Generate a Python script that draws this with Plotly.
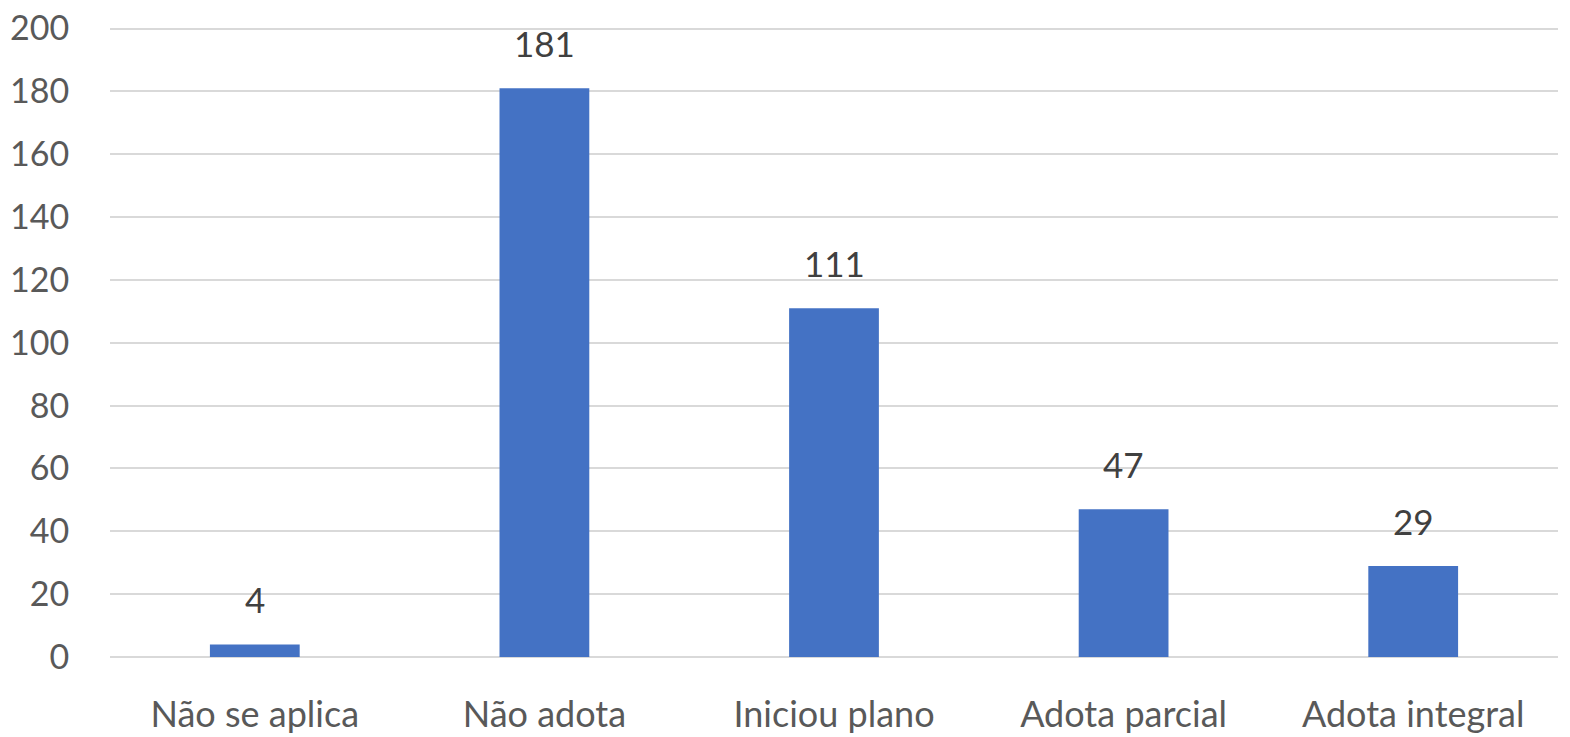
import plotly.graph_objects as go

categories = ["Não se aplica", "Não adota", "Iniciou plano", "Adota parcial", "Adota integral"]
values = [4, 181, 111, 47, 29]
y_ticks = [0, 20, 40, 60, 80, 100, 120, 140, 160, 180, 200]

FONT = "Lato"
GRAY = "#595959"

fig = go.Figure()
fig.add_trace(go.Bar(
    x=categories, y=values,
    marker=dict(color="#4472C4", line=dict(width=0)),
    width=0.31,
))

for c, v in zip(categories, values):
    fig.add_annotation(
        x=c, y=v, text=str(v), showarrow=False,
        yanchor="bottom", yshift=22,
        font=dict(family=FONT, size=35, color="#404040"),
    )

fig.update_layout(
    width=1570, height=737,
    margin=dict(l=110, r=12, t=27, b=80),
    paper_bgcolor="white", plot_bgcolor="white",
    showlegend=False,
    font=dict(family=FONT, size=30, color=GRAY),
)
fig.update_xaxes(
    showgrid=False, showline=False, zeroline=False, automargin=False,
    ticks="outside", ticklen=26, tickcolor="rgba(0,0,0,0)",
    tickfont=dict(family=FONT, size=36, color=GRAY),
)
fig.update_yaxes(
    range=[0, 200.5], tickvals=y_ticks, automargin=False,
    showgrid=True, gridcolor="#d9d9d9", gridwidth=2,
    zeroline=True, zerolinecolor="#d9d9d9", zerolinewidth=2,
    showline=False,
    ticks="outside", ticklen=33, tickcolor="rgba(0,0,0,0)",
    tickfont=dict(family=FONT, size=34, color=GRAY),
)

fig.write_html(
    "out.html",
    config={"displayModeBar": False},
    post_script="document.body.style.margin='0';document.body.style.overflow='hidden';",
)
